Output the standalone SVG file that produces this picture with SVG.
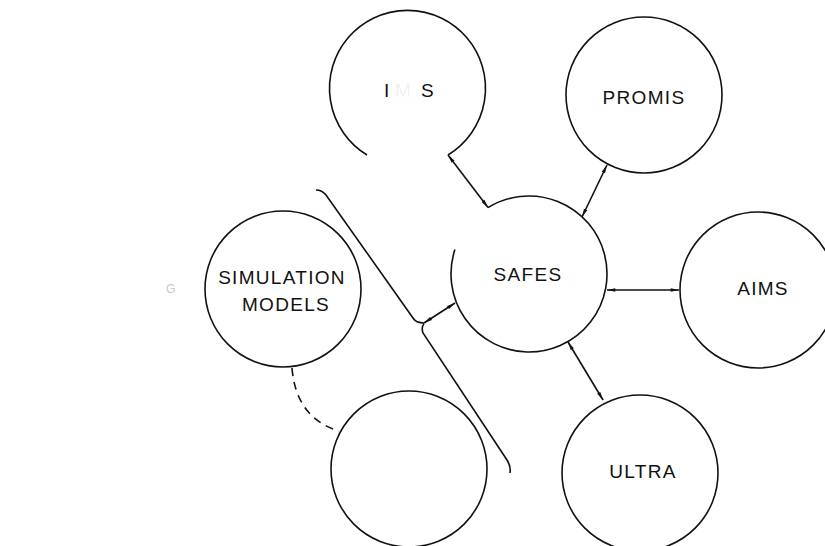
<svg xmlns="http://www.w3.org/2000/svg" width="825" height="546" viewBox="0 0 825 546">
<style>
.c{fill:none;stroke:#111;stroke-width:1.6}
.t{font-family:"Liberation Sans",Arial,sans-serif;font-size:19px;letter-spacing:1.3px;fill:#111;text-anchor:middle}
.l{fill:none;stroke:#111;stroke-width:1.6;marker-start:url(#ah);marker-end:url(#ah)}
</style>
<defs>
<marker id="ah" viewBox="0 0 10 6" refX="10" refY="3" markerWidth="9" markerHeight="5" markerUnits="userSpaceOnUse" orient="auto-start-reverse">
<path d="M0 0.8 L10 3 L0 5.2 Z" fill="#111"/>
</marker>
</defs>
<rect width="825" height="546" fill="#fff"/>
<text x="166" y="293" style="font-family:'Liberation Sans',sans-serif;font-size:12px;fill:#c8c8c8">G</text>
<g id="ims">
<path class="c" d="M448 155 A78 78 0 1 0 367 155"/>
<text class="t" style="text-anchor:start"><tspan x="384" y="97">I</tspan><tspan x="395" y="97" fill-opacity="0.08">M</tspan><tspan x="421" y="97">S</tspan></text>
</g>
<g id="promis">
<circle class="c" cx="644" cy="95" r="78"/>
<text class="t" x="644" y="104">PROMIS</text>
</g>
<g id="safes">
<path class="c" d="M488 207.6 A78 78 0 1 1 454.9 249.6"/>
<text class="t" x="528" y="281">SAFES</text>
</g>
<g id="aims">
<circle class="c" cx="758" cy="290" r="78"/>
<text class="t" x="763" y="295">AIMS</text>
</g>
<g id="ultra">
<circle class="c" cx="640" cy="473" r="78"/>
<text class="t" x="643" y="478">ULTRA</text>
</g>
<g id="simulation">
<circle class="c" cx="283" cy="289" r="78"/>
<text class="t" x="282" y="284">SIMULATION</text>
<text class="t" x="286" y="311">MODELS</text>
</g>
<g id="blank">
<circle class="c" cx="409" cy="469" r="78"/>
</g>
<g id="connectors">
<path class="l" d="M448 155 L488 207.6"/>
<path class="l" d="M607 165 L582 217"/>
<path class="l" d="M607 290 L679 290"/>
<path class="l" d="M568 342 L603 400"/>
<path class="l" d="M455 303 L424 323"/>
<path class="c" d="M316 190 Q322 190 326 195 L413 318 Q416 323 424 323 M424 324 Q421 327 423 333 L507 460 Q511 466 510 473"/>
<path class="c" d="M292 368 Q296 418 339 431" stroke-dasharray="8 6"/>
</g>
</svg>
